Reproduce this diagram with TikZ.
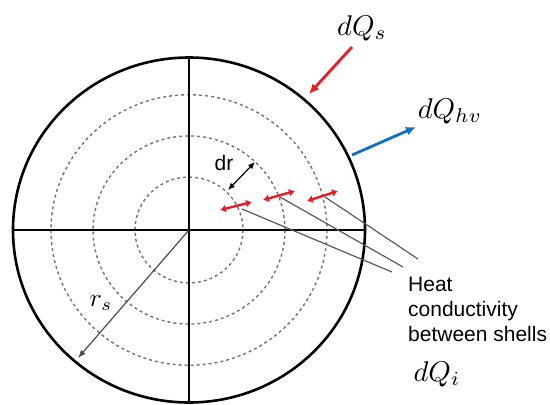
\documentclass[tikz,border=0pt]{standalone}
\usepackage{fontspec}
\setmainfont{Liberation Sans}
\usetikzlibrary{arrows.meta}
\definecolor{heatred}{RGB}{232,28,36}
\definecolor{heatblue}{RGB}{16,112,196}
\begin{document}
\begin{tikzpicture}[x=1pt,y=-1pt,
  rim/.style={line width=2.6pt,black},
  shell/.style={dash pattern=on 3pt off 3pt, line width=1.4pt, black!55},
  leader/.style={line width=1.2pt, black!65},
  flow/.style={line width=2.8pt,-{Latex[length=10pt,width=9pt]}},
  cond/.style={line width=2.4pt, heatred, {Latex[length=6pt,width=8pt]}-{Latex[length=6pt,width=8pt]}},
  drarrow/.style={line width=1.2pt, black, {Latex[length=7pt,width=6pt]}-{Latex[length=7pt,width=6pt]}},
  rarrow/.style={line width=1.2pt, black!70, -{Latex[length=8pt,width=6pt]}},
  lbl/.style={font=\fontsize{21}{25}\selectfont, inner sep=0pt},
  mlbl/.style={font=\fontsize{10}{12}\selectfont, inner sep=0pt, scale=2.85}]
\useasboundingbox (0,0) rectangle (550,405);
\coordinate (O) at (189,230);
% shells
\foreach \r in {54,96,138}{
  \draw[shell] (O) ellipse [x radius=\r, y radius=0.98*\r];
}
% rim and cross
\draw[rim] (O) ellipse [x radius=176, y radius=172.5];
\coordinate (L) at (13,230);
\coordinate (R) at (365,230);
\coordinate (T) at (189,57.5);
\coordinate (B) at (189,402.5);
\draw[rim] (L) -- (R);
\draw[rim] (T) -- (B);
% radius arrow
\coordinate (rs) at (78,358);
\draw[rarrow] (O) -- (rs);
\node[mlbl, scale=0.9] (rslabel) at (101,303) {$r_s$};
% dr arrow
\coordinate (dr1) at (228,190);
\coordinate (dr2) at (255,162);
\draw[drarrow] (dr1) -- (dr2);
\node[lbl] (drlabel) at (224,163) {dr};
% conduction arrows
\coordinate (c1a) at (220,210); \coordinate (c1b) at (252,202);
\coordinate (c2a) at (263,200); \coordinate (c2b) at (295,191);
\coordinate (c3a) at (307,201); \coordinate (c3b) at (338,191);
% leaders
\coordinate (m1) at (242,209); \coordinate (e1) at (392,272);
\coordinate (m2) at (280,197); \coordinate (e2) at (403,267);
\coordinate (m3) at (325,197); \coordinate (e3) at (418,259);
\draw[leader] (m1) -- (e1);
\draw[leader] (m2) -- (e2);
\draw[leader] (m3) -- (e3);
\draw[cond] (c1a) -- (c1b);
\draw[cond] (c2a) -- (c2b);
\draw[cond] (c3a) -- (c3b);
% text
\node[lbl, anchor=north west, align=left] (heat) at (408,277) {Heat\\conductivity\\between shells};
\node[mlbl] (dqi) at (437,374) {$dQ_i$};
% incoming / outgoing flux
\coordinate (s1) at (352,47); \coordinate (s2) at (309,94);
\draw[flow, heatred] (s1) -- (s2);
\node[mlbl] (dqs) at (362,28) {$dQ_s$};
\coordinate (h1) at (352,155); \coordinate (h2) at (416,127);
\draw[flow, heatblue] (h1) -- (h2);
\node[mlbl] (dqhv) at (450,111) {$dQ_{hv}$};
\end{tikzpicture}
\end{document}
